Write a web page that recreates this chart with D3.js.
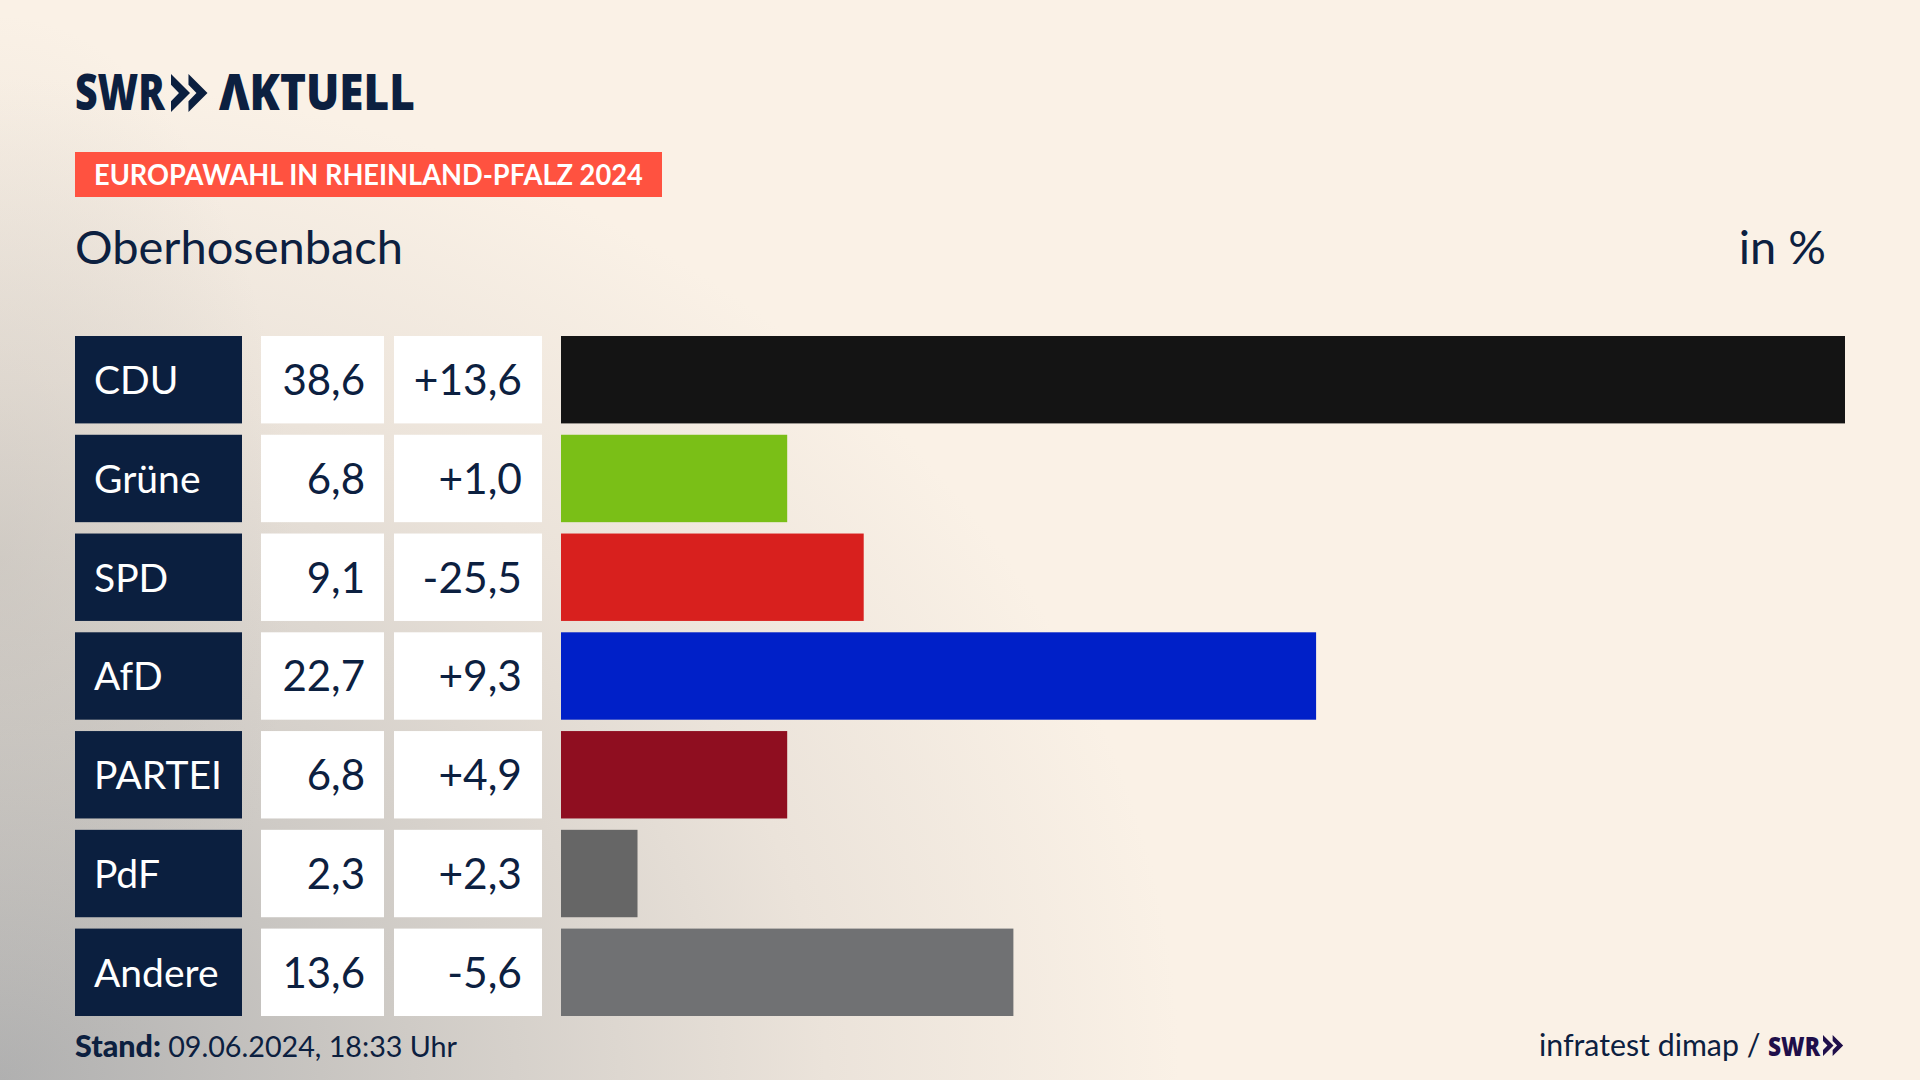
<!DOCTYPE html>
<html>
<head>
<meta charset="utf-8">
<script src="https://d3js.org/d3.v7.min.js"></script>
<style>
  html, body { margin: 0; padding: 0; background: #faf1e6; overflow: hidden; }
  text { font-family: Lato, "Noto Sans", sans-serif; fill: #0c2040; }
  .logo { font-family: "Open Sans", sans-serif; font-weight: 800; }
</style>
</head>
<body>
<svg width="1920" height="1080"></svg>
<script>
var parties = ["CDU", "Grüne", "SPD", "AfD", "PARTEI", "PdF", "Andere"];
var shares = [38.6, 6.8, 9.1, 22.7, 6.8, 2.3, 13.6];
var changes = [13.6, 1.0, -25.5, 9.3, 4.9, 2.3, -5.6];
var partyColors = ["#141414", "#7abf17", "#d8201e", "#0020c8", "#8f0e20", "#666666", "#707173"];

var navy = "#0b1f3f";
var svg = d3.select("svg");

// background: cream with grey haze from the bottom left corner and down the left edge
var defs = svg.append("defs");
var haze = defs.append("radialGradient").attr("id", "haze")
  .attr("gradientUnits", "userSpaceOnUse")
  .attr("cx", 0).attr("cy", 1080).attr("r", 1180)
  .attr("gradientTransform", "translate(0,1080) scale(1,0.85) translate(0,-1080)");
haze.append("stop").attr("offset", 0).attr("stop-color", "#b0b0b0");
haze.append("stop").attr("offset", 0.35).attr("stop-color", "#cfcbc6");
haze.append("stop").attr("offset", 0.7).attr("stop-color", "#ebe3da");
haze.append("stop").attr("offset", 1).attr("stop-color", "#faf1e6");
svg.append("rect").attr("width", 1920).attr("height", 1080).attr("fill", "url(#haze)");

var edge = defs.append("radialGradient").attr("id", "edge")
  .attr("gradientUnits", "userSpaceOnUse")
  .attr("cx", 0).attr("cy", 560).attr("r", 420)
  .attr("gradientTransform", "translate(0,560) scale(0.7,1.3) translate(0,-560)");
edge.append("stop").attr("offset", 0).attr("stop-color", "#b8b4ae").attr("stop-opacity", 0.35);
edge.append("stop").attr("offset", 1).attr("stop-color", "#b8b4ae").attr("stop-opacity", 0);
svg.append("rect").attr("width", 400).attr("height", 1080).attr("fill", "url(#edge)");

var x = d3.scaleLinear().domain([0, d3.max(shares)]).range([561, 1845]);
var y = d3.scaleBand().domain(parties).range([336, 1016]).paddingInner(0.115);
var locale = d3.formatLocale({ decimal: ",", thousands: ".", grouping: [3], currency: ["", "€"], minus: "-" });
var fmtShare = locale.format(".1f");
var fmtChange = locale.format("+.1f");

// logo
svg.append("text").attr("class", "logo").attr("transform", "translate(75,110) scale(0.8,1)")
  .attr("font-size", 49).text("SWR");
svg.append("text").attr("class", "logo").attr("transform", "translate(219,110) scale(0.9,1)")
  .attr("font-size", 49).text("ΛKTUELL");
function chevrons(g, x0, top, h, w, color) {
  [0, w * 0.92].forEach(function (dx) {
    g.append("path").attr("fill", color)
      .attr("d", d3.line()([
        [x0 + dx, top], [x0 + dx + w, top + h * 0.5], [x0 + dx, top + h],
        [x0 + dx, top + h * 0.72], [x0 + dx + w * 0.42, top + h * 0.5], [x0 + dx, top + h * 0.28]
      ]) + "Z");
  });
}
chevrons(svg, 171, 74, 38, 19, navy);

// header
svg.append("rect").attr("x", 75).attr("y", 152).attr("width", 587).attr("height", 45).attr("fill", "#ff5240");
svg.append("text").attr("transform", "translate(94,185) scale(0.955,1)").attr("font-size", 28.5).attr("font-weight", 700)
  .style("fill", "#fff").text("EUROPAWAHL IN RHEINLAND-PFALZ 2024");
svg.append("text").attr("x", 75).attr("y", 264).attr("font-size", 47).text("Oberhosenbach");
svg.append("text").attr("x", 1826).attr("y", 264).attr("font-size", 47).attr("text-anchor", "end").text("in %");

// rows
var rows = svg.selectAll("g.row").data(parties).enter().append("g").attr("class", "row")
  .attr("transform", function (d) { return "translate(0," + y(d) + ")"; });
var h = y.bandwidth();
rows.append("rect").attr("x", 75).attr("width", 167).attr("height", h).attr("fill", navy);
rows.append("rect").attr("x", 261).attr("width", 123).attr("height", h).attr("fill", "#fff");
rows.append("rect").attr("x", 394).attr("width", 148).attr("height", h).attr("fill", "#fff");
rows.append("rect").attr("x", x(0)).attr("height", h)
  .attr("width", function (d, i) { return x(shares[i]) - x(0); })
  .attr("fill", function (d, i) { return partyColors[i]; });
rows.append("text").attr("x", 94).attr("y", 58).attr("font-size", 39).style("fill", "#fff")
  .text(function (d) { return d; });
rows.append("text").attr("x", 365).attr("y", 59).attr("font-size", 42).attr("text-anchor", "end")
  .text(function (d, i) { return fmtShare(shares[i]); });
rows.append("text").attr("x", 522).attr("y", 59).attr("font-size", 42.5).attr("text-anchor", "end")
  .text(function (d, i) { return fmtChange(changes[i]); });

// footer
var stand = svg.append("text").attr("x", 75).attr("y", 1057).attr("font-size", 28.7);
stand.append("tspan").attr("font-weight", 900).attr("font-size", 30.5).text("Stand: ");
stand.append("tspan").text("09.06.2024, 18:33 Uhr");
svg.append("text").attr("x", 1539).attr("y", 1056).attr("font-size", 30.3).text("infratest dimap /");
svg.append("text").attr("class", "logo").attr("transform", "translate(1768,1056) scale(0.84,1)")
  .attr("font-size", 27).style("fill", "#1f0f4a").text("SWR");
chevrons(svg, 1823, 1035, 21, 10.5, "#1f0f4a");
</script>
</body>
</html>
